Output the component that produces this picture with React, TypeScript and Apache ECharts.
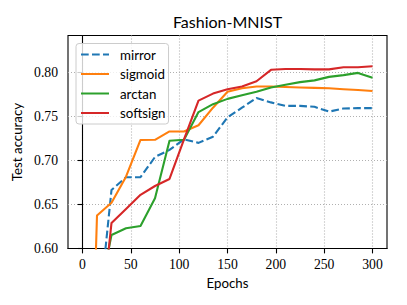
import React, { useEffect, useRef } from "react";
import * as echarts from "echarts";

const epochs = [0, 15, 30, 45, 60, 75, 90, 105, 120, 135, 150, 165, 180, 195, 210, 225, 240, 255, 270, 285, 300];
const mirror = [0.10, 0.506, 0.6665, 0.681, 0.681, 0.704, 0.712, 0.724, 0.720, 0.727, 0.749, 0.760, 0.771, 0.766, 0.762, 0.762, 0.761, 0.7555, 0.759, 0.7595, 0.7595];
const sigmoid = [0.10, 0.6375, 0.652, 0.6816, 0.7233, 0.7235, 0.733, 0.733, 0.740, 0.760, 0.778, 0.782, 0.784, 0.784, 0.7835, 0.783, 0.7825, 0.782, 0.781, 0.780, 0.779];
const arctan = [0.10, 0.533, 0.6153, 0.623, 0.6256, 0.657, 0.7225, 0.7235, 0.755, 0.764, 0.770, 0.774, 0.778, 0.783, 0.786, 0.789, 0.791, 0.795, 0.797, 0.7995, 0.794];
const softsign = [0.10, 0.473, 0.629, 0.645, 0.661, 0.671, 0.679, 0.724, 0.768, 0.776, 0.781, 0.784, 0.790, 0.803, 0.804, 0.804, 0.8035, 0.8035, 0.806, 0.806, 0.807];
const xTicks = [0, 50, 100, 150, 200, 250, 300];
const yTicks = [0.6, 0.65, 0.7, 0.75, 0.8];

const SANS = "Lato";
const SERIF = "Liberation Serif";

export default function App() {
  const ref = useRef<HTMLDivElement>(null);
  useEffect(() => {
    if (!ref.current) return;
    const chart = echarts.init(ref.current, null, { renderer: "svg" });
    const mk = (name: string, data: number[], color: string, dashed = false) => ({
      name,
      type: "line",
      data: epochs.map((e, i) => [e, data[i]]),
      symbol: "none",
      clip: true,
      lineStyle: { color, width: 2.1, type: dashed ? [7.7, 3.3] : "solid", join: "round" },
      itemStyle: { color },
    });
    chart.setOption({
      animation: false,
      backgroundColor: "#fff",
      grid: { left: 68, right: 20, top: 35.5, bottom: 56.5, show: true, borderColor: "#000", borderWidth: 1.1, backgroundColor: "transparent" },
      graphic: [
        { type: "text", x: 227.5, y: 21.5, style: { text: "Fashion-MNIST", align: "center", verticalAlign: "middle", font: `16px ${SANS}`, fill: "#000" } },
      ],
      legend: {
        orient: "vertical",
        left: 76,
        top: 43.5,
        padding: [4, 3, 4, 4],
        backgroundColor: "rgba(255,255,255,0.8)",
        borderColor: "#cccccc",
        borderWidth: 1,
        borderRadius: 3,
        itemWidth: 28,
        itemHeight: 14,
        itemGap: 5.5,
        itemStyle: { opacity: 0 },
        textStyle: { fontFamily: SANS, fontSize: 13.3, color: "#000", lineHeight: 14, padding: [0, 0, 0, 6] },
        data: ["mirror", "sigmoid", "arctan", "softsign"],
      },
      xAxis: {
        type: "value",
        min: -15,
        max: 315,
        name: "Epochs",
        nameLocation: "middle",
        nameGap: 25,
        nameTextStyle: { fontFamily: SANS, fontSize: 13.3, color: "#000" },
        axisLine: { show: true, lineStyle: { color: "#000", width: 1.1 } },
        axisTick: { show: true, length: 4.9, customValues: xTicks, lineStyle: { color: "#000", width: 1.1 } },
        axisLabel: { customValues: xTicks, margin: 9, fontFamily: SERIF, fontSize: 13.7, color: "#000" },
        splitLine: { show: true, lineStyle: { color: "#b0b0b0", width: 1.1, type: [1, 2] } },
      },
      yAxis: {
        type: "value",
        min: 0.6,
        max: 0.842,
        interval: 0.05,
        name: "Test accuracy",
        nameLocation: "middle",
        nameGap: 34,
        nameTextStyle: { fontFamily: SANS, fontSize: 13.3, color: "#000" },
        axisLine: { show: true, lineStyle: { color: "#000", width: 1.1 } },
        axisTick: { show: true, length: 4.9, customValues: yTicks, lineStyle: { color: "#000", width: 1.1 } },
        axisLabel: { customValues: yTicks, margin: 10, fontFamily: SERIF, fontSize: 13.7, color: "#000", formatter: (v: number) => v.toFixed(2) },
        splitLine: { show: true, lineStyle: { color: "#b0b0b0", width: 1.1, type: [1, 2] } },
      },
      series: [
        mk("mirror", mirror, "#1f77b4", true),
        mk("sigmoid", sigmoid, "#ff7f0e"),
        mk("arctan", arctan, "#2ca02c"),
        mk("softsign", softsign, "#d62728"),
      ],
    });
    return () => chart.dispose();
  }, []);
  return <div ref={ref} style={{ position: "fixed", left: 0, top: 0, width: 407, height: 305 }} />;
}
